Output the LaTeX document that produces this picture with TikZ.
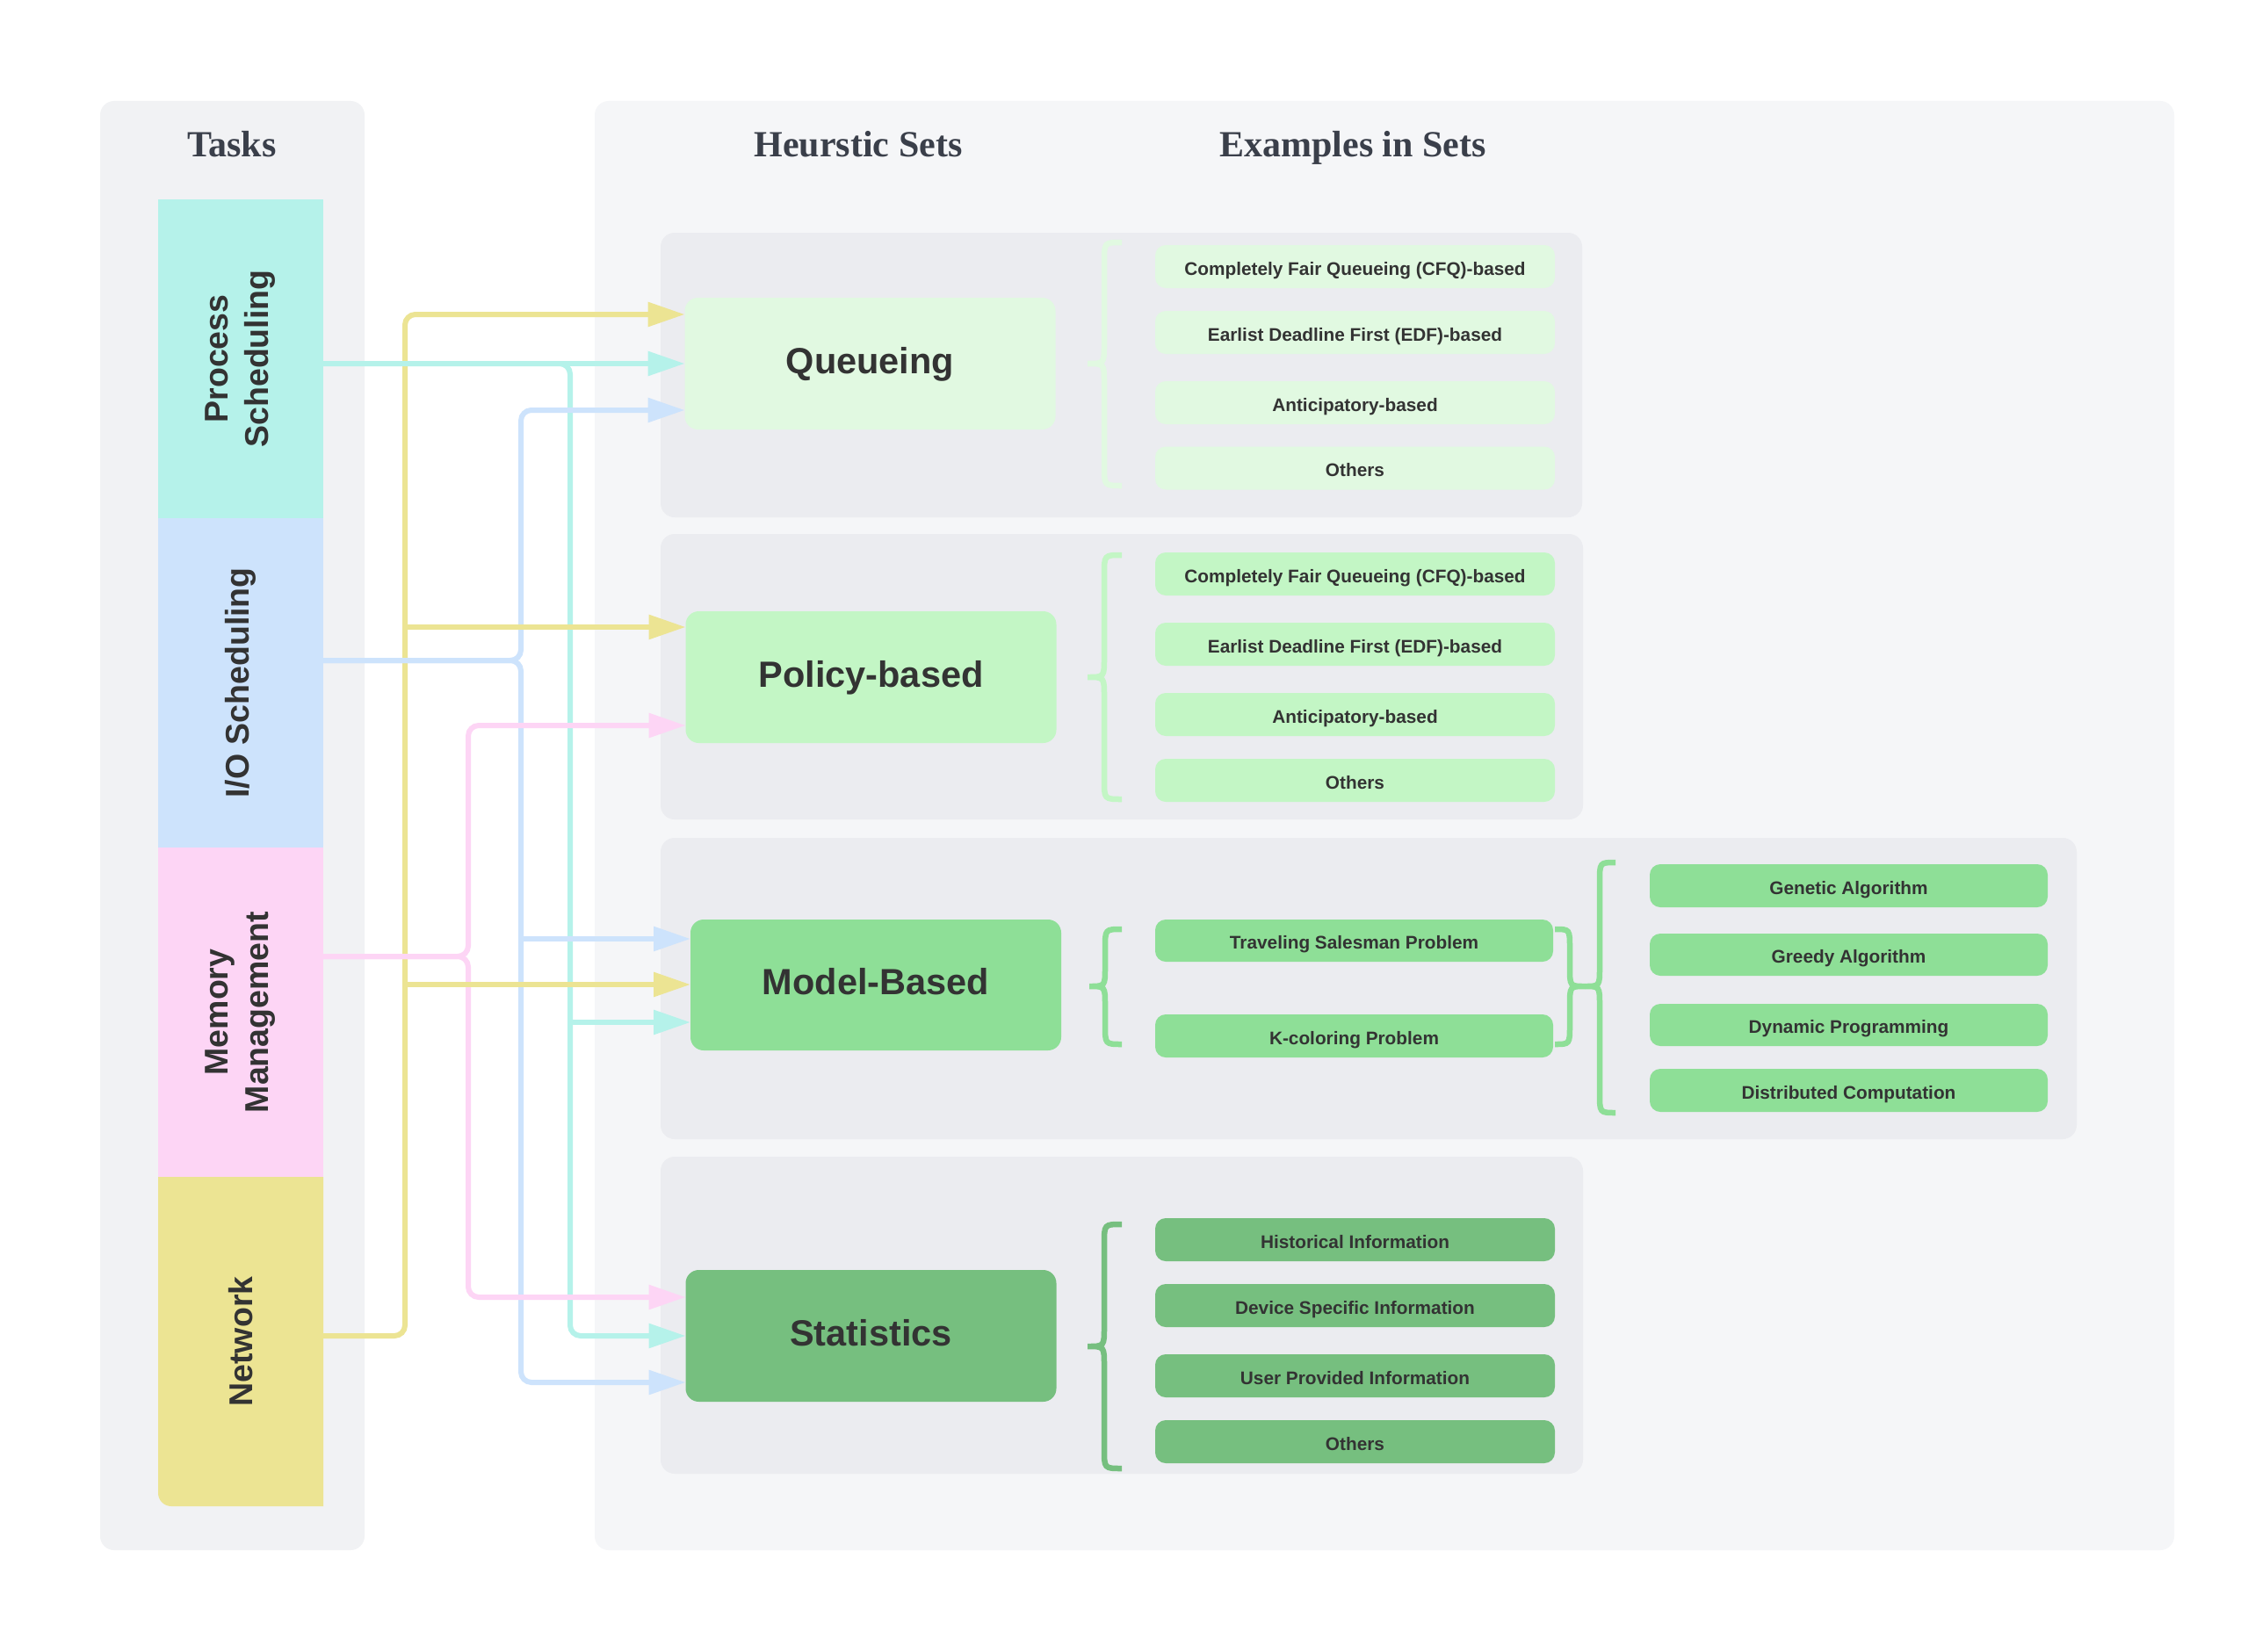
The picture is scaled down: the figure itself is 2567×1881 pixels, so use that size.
\documentclass[tikz,border=0pt]{standalone}
\usepackage{fontspec}
\setmainfont{Liberation Sans}
\newfontfamily\headfont{Liberation Serif}
\usetikzlibrary{arrows.meta,calc}
\definecolor{tpanel}{HTML}{F1F2F4}
\definecolor{hpanel}{HTML}{F5F6F8}
\definecolor{gpanel}{HTML}{EBECF0}
\definecolor{cproc}{HTML}{B5F2EA}
\definecolor{cio}{HTML}{CDE3FC}
\definecolor{cmem}{HTML}{FDD5F5}
\definecolor{cnet}{HTML}{ECE493}
\definecolor{gq}{HTML}{E1F9E1}
\definecolor{gp}{HTML}{C3F6C5}
\definecolor{gm}{HTML}{8EDF97}
\definecolor{gs}{HTML}{76BF7F}
\definecolor{txt}{HTML}{333333}
\definecolor{head}{HTML}{3A3F4A}
\newcommand{\curlybrace}[7]{\draw[bracestyle,#1] (#2,#5) .. controls (#3,#5) .. (#3,#5+22) -- (#3,#6-22) .. controls (#3,#6) .. (#4,#6) .. controls (#3,#6) .. (#3,#6+22) -- (#3,#7-22) .. controls (#3,#7) .. (#2,#7);}
\begin{document}
\begin{tikzpicture}[x=1pt,y=-1pt,
  title/.style={font=\headfont\bfseries\fontsize{42}{50}\selectfont, text=head, anchor=base},
  taskbox/.style={minimum width=188pt, inner sep=0pt, outer sep=0pt},
  tasklabel/.style={rotate=90, align=center, font=\bfseries\fontsize{37.5}{46}\selectfont, text=txt},
  setbox/.style={rounded corners=15pt, minimum width=422pt, minimum height=150pt, inner sep=0pt, outer sep=0pt, text height=30pt, text depth=8pt, font=\bfseries\fontsize{41.5}{50}\selectfont, text=txt},
  exbox/.style={rounded corners=12pt, minimum width=455pt, minimum height=49pt, inner sep=0pt, text height=19pt, text depth=0pt, font=\bfseries\fontsize{20.8}{25}\selectfont, text=txt},
  conn/.style={line width=6pt, rounded corners=12pt, -{Triangle[length=42pt,width=27pt]}},
  bracestyle/.style={line width=6.5pt}
]
\useasboundingbox[fill=white] (0,0) rectangle (2567,1881);

% panels
\fill[tpanel, rounded corners=16pt] (114,115) rectangle (415,1765);
\fill[hpanel, rounded corners=16pt] (677,115) rectangle (2475,1765);
\fill[gpanel, rounded corners=16pt] (752,265) rectangle (1801,589);
\fill[gpanel, rounded corners=16pt] (752,608) rectangle (1802,933);
\fill[gpanel, rounded corners=16pt] (752,954) rectangle (2364,1297);
\fill[gpanel, rounded corners=16pt] (752,1317) rectangle (1802,1678);

% titles
\node[title] (tTasks) at (264,179) {Tasks};
\node[title] (tHeur) at (977,179) {Heurstic Sets};
\node[title] (tEx) at (1540,179) {Examples in Sets};

% task boxes
\node[taskbox, fill=cproc, minimum height=363pt] (proc) at (274,408.5) {};
\node[taskbox, fill=cio, minimum height=375pt] (io) at (274,777.5) {};
\node[taskbox, fill=cmem, minimum height=375pt] (mem) at (274,1152.5) {};
\fill[cnet] (368,1340) -- (180,1340) [rounded corners=15pt] -- (180,1715) [sharp corners] -- (368,1715) -- cycle;
\node[taskbox, minimum height=375pt] (net) at (274,1527.5) {};
\node[tasklabel] (lproc) at (proc) {Process\\Scheduling};
\node[tasklabel] (lio) at (io) {I/O Scheduling};
\node[tasklabel] (lmem) at (mem) {Memory\\Management};
\node[tasklabel] (lnet) at (net) {Network};

% heuristic set boxes
\node[setbox, fill=gq] (q) at (990.5,414) {Queueing};
\node[setbox, fill=gp] (p) at (991.5,771) {Policy-based};
\node[setbox, fill=gm, minimum width=422pt, minimum height=149pt] (m) at (997,1121.5) {Model-Based};
\node[setbox, fill=gs] (s) at (991.5,1521) {Statistics};

% connectors: main paths
\draw[conn, cnet] ($(net.east)+(0,-6.5)$) -| (461,358) -- ($(q.west)+(0,-56)$);
\draw[conn, cproc] ($(proc.east)+(0,5.5)$) -- (q.west);
\draw[conn, cproc] ($(proc.east)+(0,5.5)$) -| (649,1521) -- (s.west);
\draw[conn, cio] ($(io.east)+(0,-25.5)$) -| (593,467) -- ($(q.west)+(0,53)$);
\draw[conn, cio] ($(io.east)+(0,-25.5)$) -| (593,1574) -- ($(s.west)+(0,53)$);
\draw[conn, cmem] ($(mem.east)+(0,-63.5)$) -| (533,826) -- ($(p.west)+(0,55)$);
\draw[conn, cmem] ($(mem.east)+(0,-63.5)$) -| (533,1477) -- ($(s.west)+(0,-44)$);
% branches
\coordinate (ylb1) at (461,714);
\coordinate (ylb2) at (461,1121);
\coordinate (blb) at (593,1069);
\coordinate (cyb) at (649,1164);
\draw[conn, cio] (blb) -- ($(m.west)+(0,-52.5)$);
\draw[conn, cproc] (cyb) -- ($(m.west)+(0,42.5)$);
\draw[conn, cnet] (ylb1) -- ($(p.west)+(0,-57)$);
\draw[conn, cnet] (ylb2) -- ($(m.west)+(0,-0.5)$);

% example boxes
\node[exbox, fill=gq] (q1) at (1542.5,303.5) {Completely Fair Queueing (CFQ)-based};
\node[exbox, fill=gq] (q2) at (1542.5,378.5) {Earlist Deadline First (EDF)-based};
\node[exbox, fill=gq] (q3) at (1542.5,458.5) {Anticipatory-based};
\node[exbox, fill=gq] (q4) at (1542.5,533) {Others};

\node[exbox, fill=gp] (p1) at (1542.5,653.5) {Completely Fair Queueing (CFQ)-based};
\node[exbox, fill=gp] (p2) at (1542.5,733.5) {Earlist Deadline First (EDF)-based};
\node[exbox, fill=gp] (p3) at (1542.5,813.5) {Anticipatory-based};
\node[exbox, fill=gp] (p4) at (1542.5,888.5) {Others};

\node[exbox, fill=gm, minimum width=453pt, minimum height=48pt] (m1) at (1541.5,1071) {Traveling Salesman Problem};
\node[exbox, fill=gm, minimum width=453pt] (m2) at (1541.5,1179.5) {K-coloring Problem};
\node[exbox, fill=gm, minimum width=453pt] (r1) at (2104.5,1008.5) {Genetic Algorithm};
\node[exbox, fill=gm, minimum width=453pt, minimum height=48pt] (r2) at (2104.5,1087) {Greedy Algorithm};
\node[exbox, fill=gm, minimum width=453pt, minimum height=48pt] (r3) at (2104.5,1167) {Dynamic Programming};
\node[exbox, fill=gm, minimum width=453pt] (r4) at (2104.5,1241.5) {Distributed Computation};

\node[exbox, fill=gs] (s1) at (1542.5,1411.5) {Historical Information};
\node[exbox, fill=gs] (s2) at (1542.5,1486.5) {Device Specific Information};
\node[exbox, fill=gs] (s3) at (1542.5,1566.5) {User Provided Information};
\node[exbox, fill=gs] (s4) at (1542.5,1641.5) {Others};

% braces
\curlybrace{gq}{1277}{1257}{1238}{276}{414}{553}
\curlybrace{gp}{1277}{1257}{1238}{632}{771}{910}
\curlybrace{gm}{1277}{1258}{1240}{1058}{1123}{1189}
\curlybrace{gm}{1770}{1787}{1804}{1058}{1123}{1189}
\curlybrace{gm}{1839}{1821}{1804}{982}{1123}{1267}
\curlybrace{gs}{1277}{1257}{1238}{1394}{1533}{1672}
\end{tikzpicture}
\end{document}
